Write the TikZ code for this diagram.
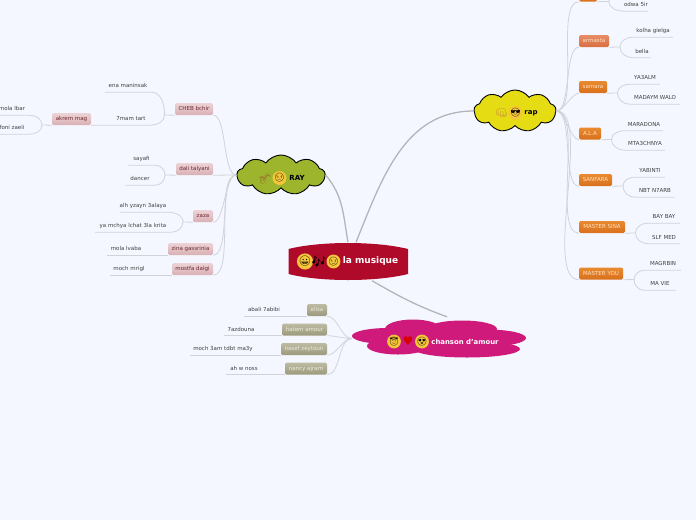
\documentclass[tikz,border=0pt]{standalone}
\usepackage{fontspec}
\setmainfont{DejaVu Sans}
\newfontfamily\emojifont{Noto Emoji}
\usepackage{tikz}
\usetikzlibrary{positioning, shapes.symbols}
\definecolor{mapback}{HTML}{F4F7FF}
\definecolor{linkgrey}{HTML}{D0D3DA}
\definecolor{maingrey}{HTML}{B4B5B8}
\definecolor{musiquered}{HTML}{B00A2A}
\definecolor{loveink}{HTML}{CF1A7C}
\definecolor{facey}{HTML}{F5C53A}
\definecolor{raygreen}{HTML}{9DB52C}
\definecolor{rapyellow}{HTML}{E6DC14}
\definecolor{pinktop}{HTML}{ECD3D5}
\definecolor{pinkbottom}{HTML}{D9B0B4}
\definecolor{pinkink}{HTML}{6E2A35}
\definecolor{olivetop}{HTML}{BDBBA3}
\definecolor{olivebottom}{HTML}{9C9A7C}
\definecolor{oliveink}{HTML}{EDEDDD}
\definecolor{orangetop}{HTML}{E88A30}
\definecolor{orangebottom}{HTML}{D9701C}
\definecolor{orangeink}{HTML}{FFE3C4}
\definecolor{armastatop}{HTML}{E88D66}
\definecolor{armastabottom}{HTML}{DA6E42}
\newcommand{\mapfont}{\fontsize{5.5}{6.5}\selectfont}
\tikzset{
  link/.style={draw=linkgrey, line width=0.8pt},
  mainlink/.style={draw=maingrey, line width=1.3pt},
  leaf/.style={minimum width=#1, minimum height=12pt, inner sep=0pt, text height=4.2pt, text depth=1.2pt, text=black!75, font=\mapfont},
  mapbox/.style={minimum width=#1, minimum height=12pt, inner sep=0pt, rounded corners=1.5pt, text height=4.2pt, text depth=1.2pt, font=\mapfont},
  pinkbox/.style={mapbox=#1, top color=pinktop, bottom color=pinkbottom, text=pinkink},
  olivebox/.style={mapbox=#1, top color=olivetop, bottom color=olivebottom, text=oliveink},
  orangebox/.style={mapbox=#1, top color=orangetop, bottom color=orangebottom, text=orangeink},
  facenode/.style={circle, fill=facey, inner sep=0pt, minimum size=10pt, font=\emojifont\fontsize{8.5}{9}\selectfont},
  inknode/.style={inner sep=0pt, font=\emojifont\fontsize{10}{11}\selectfont},
  titlenode/.style={inner sep=0pt, font=\bfseries\fontsize{7}{8}\selectfont},
  raycloud/.style={cloud, cloud puffs=9, cloud puff arc=110, aspect=2.2, draw=black, line width=0.9pt, fill=#1, inner sep=0pt},
}
\begin{document}
\begin{tikzpicture}[x=1pt, y=-1pt, on grid, node distance=10pt]
  \clip (0,0) rectangle (696,520);
  \fill[mapback] (0,0) rectangle (696,520);

  % centre and the three clouds
  \node[minimum width=120pt, minimum height=38pt] (musique) at (348,261.5) {};
  \fill[musiquered] (288.5,249) .. controls (320,241) and (376,241) .. (408,249) -- (408,274) .. controls (376,282) and (320,282) .. (288.5,274) -- cycle;
  \node[raycloud=raygreen, minimum width=88pt, minimum height=40pt] (ray) [above left=86.5pt and 67pt of musique] {};
  \node[raycloud=rapyellow, minimum width=82pt, minimum height=42pt] (rap) [above right=150.5pt and 167pt of musique] {};
  \node[minimum width=174pt, minimum height=39pt] (chanson) [below right=77pt and 91pt of musique] {};
  \fill[loveink] (388,336) ellipse [x radius=36pt, y radius=8pt];
  \fill[loveink] (413,329) ellipse [x radius=28pt, y radius=9.5pt];
  \fill[loveink] (462,329) ellipse [x radius=35pt, y radius=8.5pt];
  \fill[loveink] (487,338) ellipse [x radius=39pt, y radius=8.5pt];
  \fill[loveink] (467,349) ellipse [x radius=53pt, y radius=8.5pt];
  \fill[loveink] (398,346) ellipse [x radius=31pt, y radius=8.5pt];
  \fill[loveink] (435,339) ellipse [x radius=60pt, y radius=10pt];

  % titles
  \node[titlenode, text=white, font=\bfseries\fontsize{9}{10}\selectfont] (musiquetitle) [right=22.5pt of musique] {la musique};
  \node[facenode, minimum size=12pt, font=\emojifont\fontsize{10}{11}\selectfont] (smile) [left=43pt of musique] {😀};
  \node[inknode, text=black, font=\emojifont\fontsize{12}{13}\selectfont] (notes) [left=29pt of musique] {🎶};
  \node[facenode, minimum size=11pt] (smirk) [left=14.5pt of musique] {😏};
  \node[titlenode] (raytitle) [below right=3pt and 16pt of ray] {RAY};
  \node[facenode] (rayface) [below left=3pt and 1.5pt of ray] {😒};
  \node[inknode, text=brown!80!black] (sax) [below left=4pt and 16pt of ray] {🎷};
  \node[titlenode] (raptitle) [below right=2pt and 16pt of rap] {rap};
  \node[facenode, minimum size=10.5pt] (shades) [below right=2pt and 0.5pt of rap] {😎};
  \node[inknode, text=brown] (fist) [below left=2pt and 13.5pt of rap] {👊};
  \node[titlenode, text=white, font=\bfseries\fontsize{6.9}{8}\selectfont] (chansontitle) [below right=3pt and 26pt of chanson] {chanson d'amour};
  \node[facenode] (angel) [below left=3pt and 45pt of chanson] {😇};
  \node[inner sep=0pt, text=red!85!black, font=\fontsize{12}{12}\selectfont] (heart) [below left=2.5pt and 31pt of chanson] {♥};
  \node[facenode] (lovely) [below left=3pt and 17pt of chanson] {😍};

  % RAY
  \node[pinkbox=38pt] (cheb) [above left=66pt and 87pt of ray] {CHEB bchir};
  \node[pinkbox=37pt] (dali) [above left=6pt and 86.5pt of ray] {dali talyani};
  \node[pinkbox=20pt] (zaza) [below left=41pt and 78pt of ray] {zaza};
  \node[pinkbox=45pt] (zina) [below left=74pt and 90.5pt of ray] {zina gassrinia};
  \node[pinkbox=41pt] (mostfa) [below left=94pt and 88.5pt of ray] {mostfa dalgi};
  \node[pinkbox=39pt] (akrem) [below left=10pt and 122.5pt of cheb] {akrem mag};
  \node[leaf=46pt] (ena) [above left=23pt and 66pt of cheb] {ena maninsak};
  \node[leaf=38pt] (hmam) [below left=10pt and 63pt of cheb] {7mam tart};
  \node[leaf=34pt] (molalbar) [above left=10pt and 59.5pt of akrem] {mola lbar};
  \node[leaf=34pt] (foni) [below left=9pt and 59.5pt of akrem] {foni zaeli};
  \node[leaf=27pt] (sayafi) [above left=10pt and 53pt of dali] {sayafi};
  \node[leaf=30pt] (dancer) [below left=10pt and 54.5pt of dali] {dancer};
  \node[leaf=46pt] (alh) [above left=10pt and 60pt of zaza] {alh yzayn 3alaya};
  \node[leaf=76pt] (mchya) [below left=10pt and 70pt of zaza] {ya mchya lchat 3la krita};
  \node[leaf=38pt] (molalvaba) [left=64.5pt of zina] {mola lvaba};
  \node[leaf=38pt] (mrigl) [left=63.5pt of mostfa] {moch mrigl};
  \coordinate (chebfork) at (164.5,115);
  \coordinate (akremfork) at (42,125);
  \coordinate (dalifork) at (165,175);
  \coordinate (zazafork) at (183,222);

  % chanson d'amour
  \node[olivebox=20pt] (elisa) [above left=28.5pt and 122pt of chanson] {elisa};
  \node[olivebox=45pt] (hatem) [above left=9pt and 134.5pt of chanson] {hatem amour};
  \node[olivebox=46pt] (nasef) [below left=10.5pt and 135pt of chanson] {nasef zeytoun};
  \node[olivebox=42pt] (nancy) [below left=30pt and 133pt of chanson] {nancy ajram};
  \node[leaf=40pt] (abali) [left=53pt of elisa] {abali 7abibi};
  \node[leaf=34pt] (azdouna) [left=63.5pt of hatem] {7azdouna};
  \node[leaf=66pt] (moch) [left=81pt of nasef] {moch 3am tdbt ma3y};
  \node[leaf=36pt] (noss) [left=62pt of nancy] {ah w noss};

  % rap
  \node[orangebox=18pt] (topbox) [above right=115.5pt and 73pt of rap] {};
  \node[orangebox=30pt, top color=armastatop, bottom color=armastabottom] (armasta) [above right=70pt and 79pt of rap] {armasta};
  \node[orangebox=28pt] (samara) [above right=24pt and 78pt of rap] {samara};
  \node[orangebox=22pt] (ala) [below right=22.5pt and 75pt of rap] {A.L.A};
  \node[orangebox=33pt] (sanfara) [below right=69pt and 80.5pt of rap] {SANFARA};
  \node[orangebox=46pt] (sina) [below right=116pt and 87pt of rap] {MASTER SINA};
  \node[orangebox=44pt] (masteryou) [below right=162.5pt and 86pt of rap] {MASTER YOU};
  \node[leaf=22pt] (odwa) [below right=9.5pt and 48pt of topbox] {odwa 5ir};
  \node[leaf=40pt] (kolha) [above right=10pt and 59pt of armasta] {kolha gielga};
  \node[leaf=18pt] (bella) [below right=10.5pt and 48pt of armasta] {bella};
  \node[leaf=30pt] (yaalm) [above right=9pt and 52pt of samara] {YA3ALM};
  \node[leaf=50pt] (madaym) [below right=11pt and 62pt of samara] {MADAYM WALO};
  \node[leaf=38pt] (maradona) [above right=9pt and 54pt of ala] {MARADONA};
  \node[leaf=40pt] (mta) [below right=10.5pt and 55pt of ala] {MTA3CHNYA};
  \node[leaf=30pt] (yabinti) [above right=9pt and 54.5pt of sanfara] {YABINTI};
  \node[leaf=40pt] (nbt) [below right=11pt and 59.5pt of sanfara] {NBT N7ARB};
  \node[leaf=32pt] (baybay) [above right=10pt and 62pt of sina] {BAY BAY};
  \node[leaf=32pt] (slf) [below right=10.5pt and 62pt of sina] {SLF MED};
  \node[leaf=36pt] (magrbin) [above right=9.5pt and 62pt of masteryou] {MAGRBIN};
  \node[leaf=32pt] (mavie) [below right=10.5pt and 59pt of masteryou] {MA VIE};
  \coordinate (topfork) at (609,1.5);
  \coordinate (topfree) at (622,-12);
  \coordinate (armastafork) at (620,47);
  \coordinate (samarafork) at (617.5,93);
  \coordinate (alafork) at (611.5,139.5);
  \coordinate (sanfarafork) at (623,186);
  \coordinate (sinafork) at (635.5,233);
  \coordinate (youfork) at (634,279.5);

  % main branches
  \path[mainlink]
    (ray.east) edge[out=-50, in=100] (musique.north)
    (rap.west) edge[out=180, in=68] ([xshift=8pt]musique.north)
    ([xshift=24pt]musique.south) edge[out=-30, in=160] ([xshift=8pt, yshift=2pt]chanson.north);

  % RAY links
  \path[link]
    (ray.west) edge[out=180, in=0, looseness=.55] (cheb.south east)
    (ray.west) edge (dali.south east)
    (ray.west) edge[out=180, in=0, looseness=.55] (zaza.south east)
    (ray.west) edge[out=180, in=0, looseness=.55] (zina.south east)
    (ray.west) edge[out=180, in=0, looseness=.55] (mostfa.south east);
  \draw[link] (ena.south west) -- (ena.south east) to[out=0, in=90] (chebfork) -- (cheb.south west);
  \draw[link] (akrem.south east) -- (hmam.south east) to[out=0, in=-90] (chebfork);
  \draw[link] (molalbar.south west) -- (molalbar.south east) to[out=0, in=90] (akremfork) -- (akrem.south west);
  \draw[link] (foni.south west) -- (foni.south east) to[out=0, in=-90] (akremfork);
  \draw[link] (sayafi.south west) -- (sayafi.south east) to[out=0, in=90] (dalifork) -- (dali.south west);
  \draw[link] (dancer.south west) -- (dancer.south east) to[out=0, in=-90] (dalifork);
  \draw[link] (alh.south west) -- (alh.south east) to[out=0, in=90] (zazafork) -- (zaza.south west);
  \draw[link] (mchya.south west) -- (mchya.south east) to[out=0, in=-90] (zazafork);
  \draw[link] (molalvaba.south west) -- (zina.south west);
  \draw[link] (mrigl.south west) -- (mostfa.south west);

  % chanson d'amour links
  \path[link]
    (chanson.west) edge[out=180, in=0, looseness=.8] (elisa.south east)
    (chanson.west) edge[out=180, in=0, looseness=.8] (hatem.south east)
    (chanson.west) edge[out=180, in=0, looseness=.8] (nasef.south east)
    (chanson.west) edge[out=180, in=0, looseness=.8] (nancy.south east);
  \draw[link] (abali.south west) -- (elisa.south west);
  \draw[link] (azdouna.south west) -- (hatem.south west);
  \draw[link] (moch.south west) -- (nasef.south west);
  \draw[link] (noss.south west) -- (nancy.south west);

  % rap links
  \path[link]
    (rap.east) edge[out=0, in=180, looseness=.55] (topbox.south west)
    (rap.east) edge[out=0, in=180, looseness=.55] (armasta.south west)
    (rap.east) edge[out=0, in=180, looseness=.55] (samara.south west)
    (rap.east) edge[out=0, in=180, looseness=.55] (ala.south west)
    (rap.east) edge[out=0, in=180, looseness=.55] (sanfara.south west)
    (rap.east) edge[out=0, in=180, looseness=.55] (sina.south west)
    (rap.east) edge[out=0, in=180, looseness=.55] (masteryou.south west);
  \draw[link] (topbox.south east) -- (topfork) to[out=90, in=180] (topfree);
  \draw[link] (topfork) to[out=-90, in=180] (odwa.south west) -- (odwa.south east);
  \draw[link] (armasta.south east) -- (armastafork) to[out=90, in=180] (kolha.south west) -- (kolha.south east);
  \draw[link] (armastafork) to[out=-90, in=180] (bella.south west) -- (bella.south east);
  \draw[link] (samara.south east) -- (samarafork) to[out=90, in=180] (yaalm.south west) -- (yaalm.south east);
  \draw[link] (samarafork) to[out=-90, in=180] (madaym.south west) -- (madaym.south east);
  \draw[link] (ala.south east) -- (alafork) to[out=90, in=180] (maradona.south west) -- (maradona.south east);
  \draw[link] (alafork) to[out=-90, in=180] (mta.south west) -- (mta.south east);
  \draw[link] (sanfara.south east) -- (sanfarafork) to[out=90, in=180] (yabinti.south west) -- (yabinti.south east);
  \draw[link] (sanfarafork) to[out=-90, in=180] (nbt.south west) -- (nbt.south east);
  \draw[link] (sina.south east) -- (sinafork) to[out=90, in=180] (baybay.south west) -- (baybay.south east);
  \draw[link] (sinafork) to[out=-90, in=180] (slf.south west) -- (slf.south east);
  \draw[link] (masteryou.south east) -- (youfork) to[out=90, in=180] (magrbin.south west) -- (magrbin.south east);
  \draw[link] (youfork) to[out=-90, in=180] (mavie.south west) -- (mavie.south east);
\end{tikzpicture}
\end{document}
